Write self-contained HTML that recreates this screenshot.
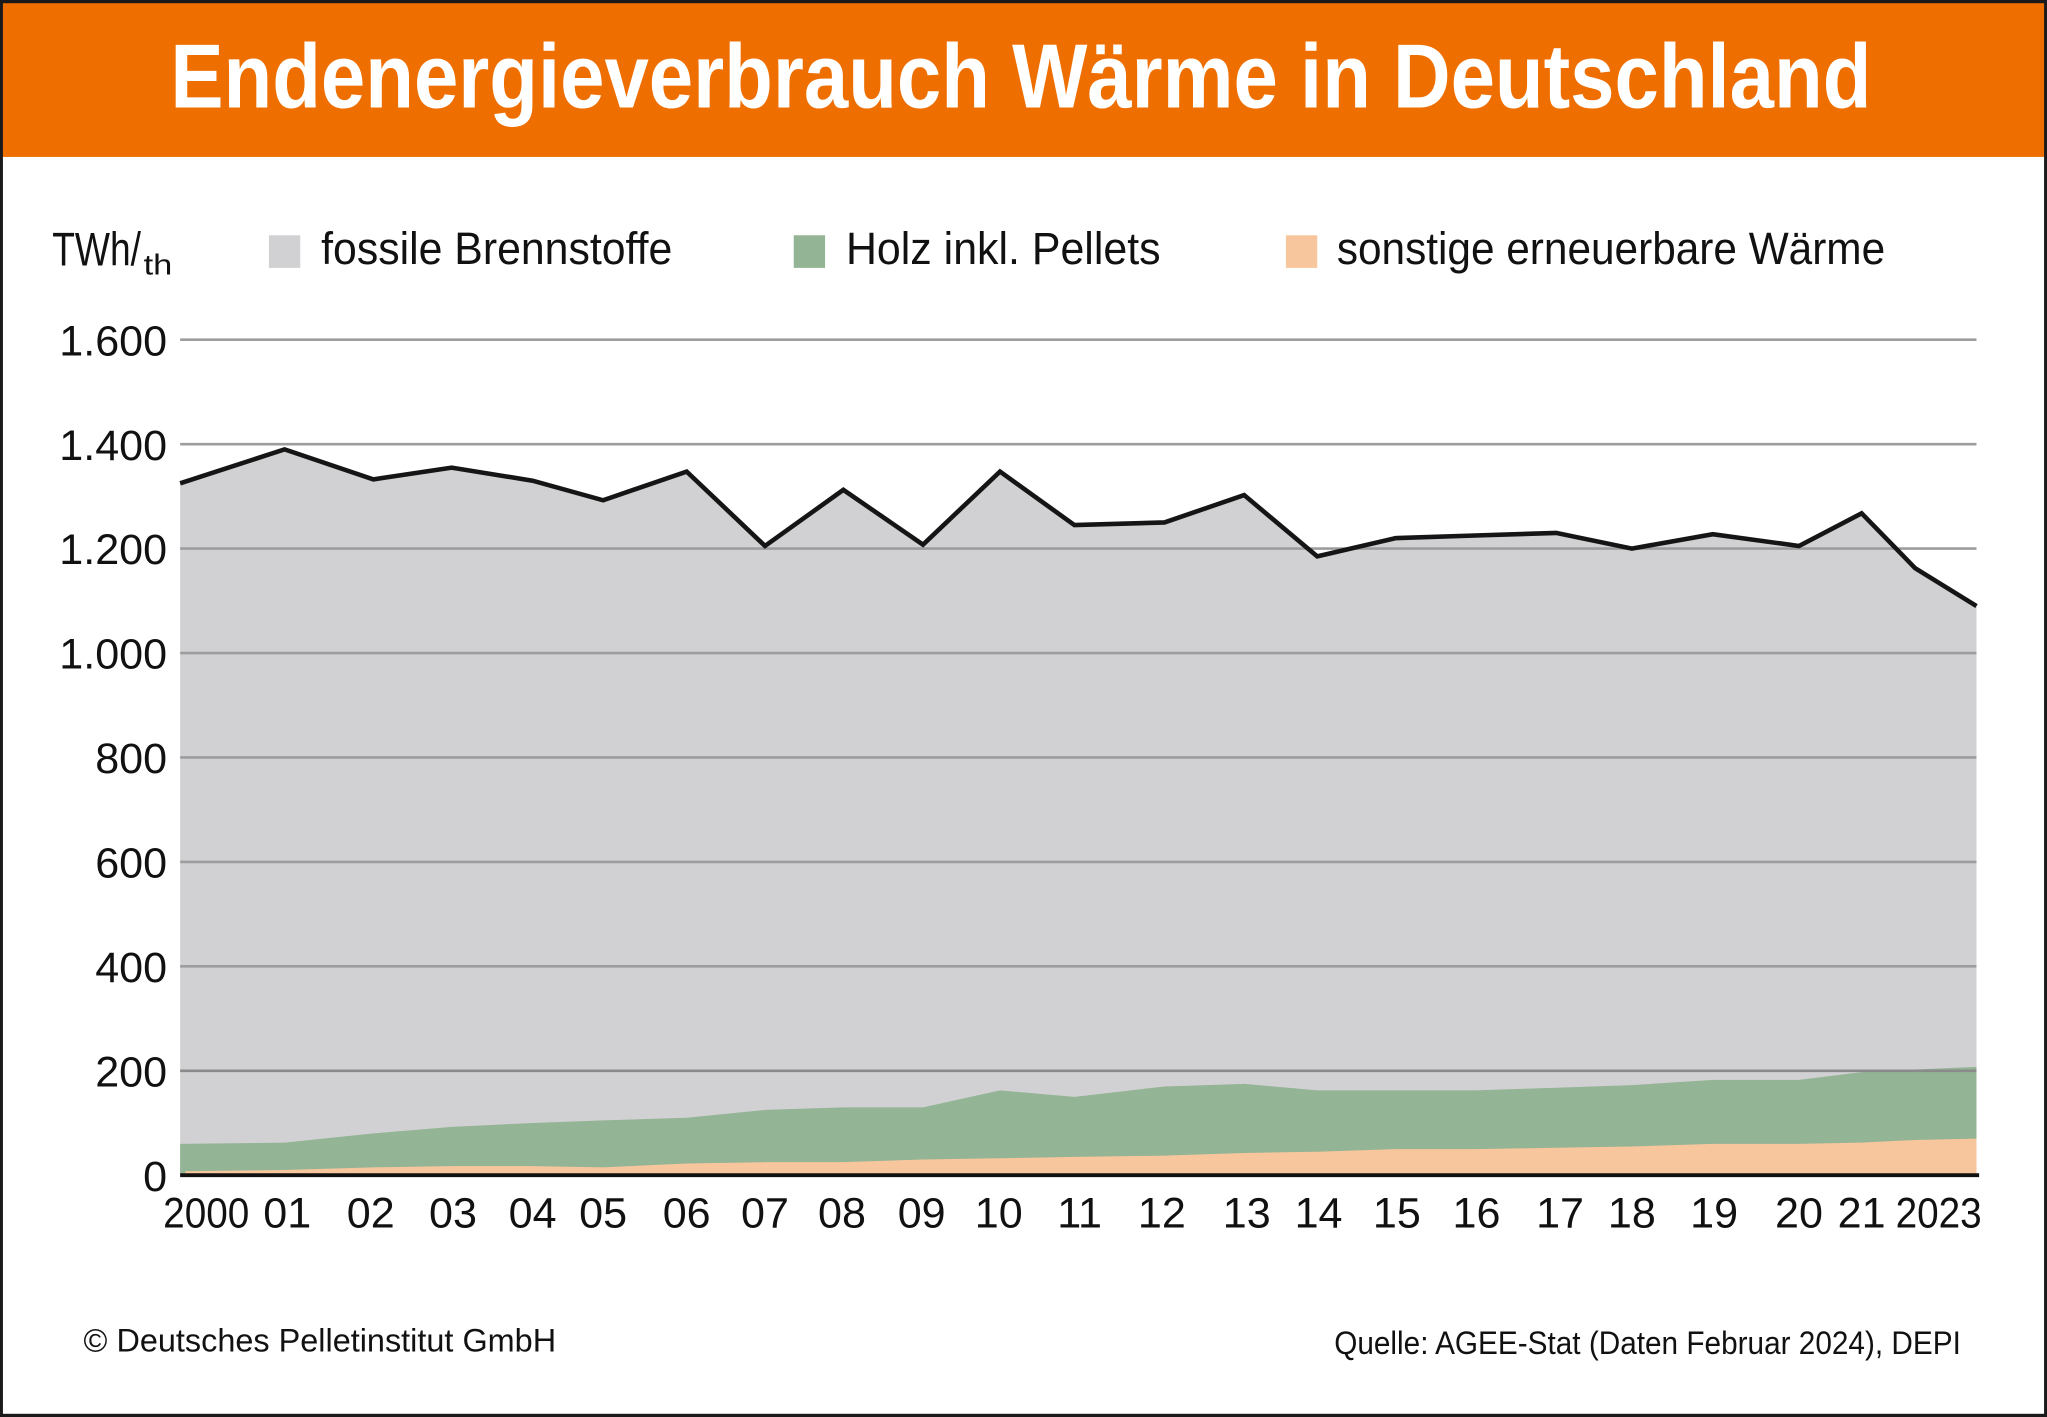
<!DOCTYPE html>
<html><head><meta charset="utf-8"><style>
html,body{margin:0;padding:0;background:#fff;}
svg{display:block;}
text{font-family:"Liberation Sans Narrow","Liberation Sans",sans-serif;}
</style></head><body>
<svg width="2047" height="1417" viewBox="0 0 1568 1085" xmlns="http://www.w3.org/2000/svg">
<rect x="0" y="0" width="1568" height="1085" fill="#fff"/>
<rect x="0" y="0" width="1568" height="120" fill="#ee6e00"/>
<text x="782" y="82" text-anchor="middle" font-size="70" font-weight="bold" fill="#fff" textLength="1303" lengthAdjust="spacingAndGlyphs">Endenergieverbrauch Wärme in Deutschland</text>
<rect x="1" y="1" width="1566" height="1083" fill="none" stroke="#1a1a1a" stroke-width="2.5"/>

<!-- legend -->
<text x="40" y="203" font-size="36" fill="#111" textLength="68" lengthAdjust="spacingAndGlyphs">TWh/</text>
<text x="110" y="210" font-size="22" fill="#111" textLength="22" lengthAdjust="spacingAndGlyphs">th</text>
<rect x="206" y="180" width="24" height="25" fill="#d1d1d3"/>
<text x="246" y="202" font-size="35" fill="#111" textLength="269" lengthAdjust="spacingAndGlyphs">fossile Brennstoffe</text>
<rect x="608" y="180" width="24" height="25" fill="#94b496"/>
<text x="648" y="202" font-size="35" fill="#111" textLength="241" lengthAdjust="spacingAndGlyphs">Holz inkl. Pellets</text>
<rect x="985" y="180" width="24" height="25" fill="#f8c69c"/>
<text x="1024" y="202" font-size="35" fill="#111" textLength="420" lengthAdjust="spacingAndGlyphs">sonstige erneuerbare Wärme</text>

<!-- areas -->
<polygon fill="#d1d1d3" points="138,370 218,344 286,367 346,358 408,368 462,383 526,361 586,418 646,375 707,417 766,361 823,402 892,400 953,379 1009,426 1069,412 1130,410 1192,408 1250,420 1312,409 1378,418 1426,393 1467,435 1514,464 1514,900 138,900"/>
<g stroke="#9d9d9f" stroke-width="2">
<line x1="138" y1="260" x2="1514" y2="260"/>
<line x1="138" y1="340" x2="1514" y2="340"/>
<line x1="138" y1="420" x2="1514" y2="420"/>
<line x1="138" y1="500" x2="1514" y2="500"/>
<line x1="138" y1="580" x2="1514" y2="580"/>
<line x1="138" y1="660" x2="1514" y2="660"/>
<line x1="138" y1="740" x2="1514" y2="740"/>
</g>
<polygon fill="#94b496" points="138,876 218,875 286,868 346,863 408,860 462,858 526,856 586,850 646,848 707,848 766,835 823,840 892,832 953,830 1009,835 1069,835 1130,835 1192,833 1250,831 1312,827 1378,827 1426,821 1467,819 1514,817 1514,900 138,900"/>
<line x1="138" y1="820" x2="1514" y2="820" stroke="#8a8a8a" stroke-width="2"/>
<polygon fill="#f8c69c" points="142,897 218,896 286,894 346,893 408,893 462,894 526,891 586,890 646,890 707,888 766,887 823,886 892,885 953,883 1009,882 1069,880 1130,880 1192,879 1250,878 1312,876 1378,876 1426,875 1467,873 1514,872 1514,900 142,900"/>
<polyline fill="none" stroke="#151515" stroke-width="3.5" points="138,370 218,344 286,367 346,358 408,368 462,383 526,361 586,418 646,375 707,417 766,361 823,402 892,400 953,379 1009,426 1069,412 1130,410 1192,408 1250,420 1312,409 1378,418 1426,393 1467,435 1514,464"/>
<line x1="138" y1="900" x2="1516" y2="900" stroke="#111" stroke-width="3"/>

<!-- y labels -->
<g font-size="33" fill="#111" text-anchor="end">
<text x="128" y="272">1.600</text>
<text x="128" y="352">1.400</text>
<text x="128" y="432">1.200</text>
<text x="128" y="512">1.000</text>
<text x="128" y="592">800</text>
<text x="128" y="672">600</text>
<text x="128" y="752">400</text>
<text x="128" y="832">200</text>
<text x="128" y="912">0</text>
</g>
<!-- x labels -->
<g font-size="33" fill="#111" text-anchor="middle">
<text x="158" y="940" textLength="66" lengthAdjust="spacingAndGlyphs">2000</text>
<text x="220" y="940">01</text>
<text x="284" y="940">02</text>
<text x="347" y="940">03</text>
<text x="408" y="940">04</text>
<text x="462" y="940">05</text>
<text x="526" y="940">06</text>
<text x="586" y="940">07</text>
<text x="645" y="940">08</text>
<text x="706" y="940">09</text>
<text x="765" y="940">10</text>
<text x="827" y="940">11</text>
<text x="890" y="940">12</text>
<text x="955" y="940">13</text>
<text x="1010" y="940">14</text>
<text x="1070" y="940">15</text>
<text x="1131" y="940">16</text>
<text x="1195" y="940">17</text>
<text x="1250" y="940">18</text>
<text x="1313" y="940">19</text>
<text x="1378" y="940">20</text>
<text x="1426" y="940">21</text>
<text x="1485" y="940" textLength="66" lengthAdjust="spacingAndGlyphs">2023</text>
</g>
<text x="64" y="1035" font-size="25" fill="#111" textLength="362" lengthAdjust="spacingAndGlyphs">© Deutsches Pelletinstitut GmbH</text>
<text x="1022" y="1037" font-size="25" fill="#111" textLength="480" lengthAdjust="spacingAndGlyphs">Quelle: AGEE-Stat (Daten Februar 2024), DEPI</text>
</svg>
</body></html>
